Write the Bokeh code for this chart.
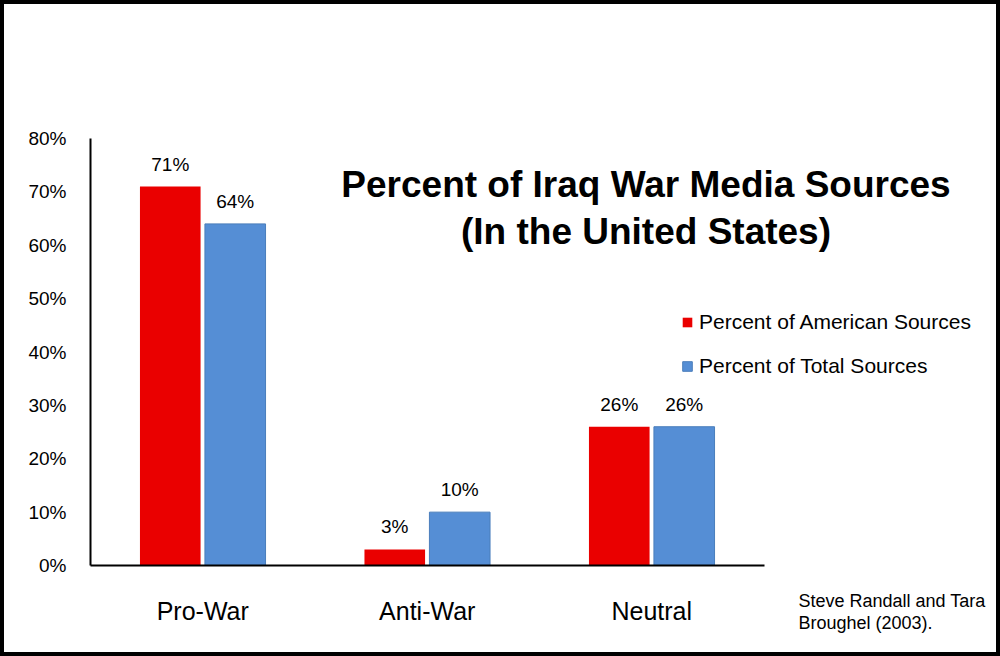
from bokeh.plotting import figure
from bokeh.models import (ColumnDataSource, Range1d, FixedTicker, PrintfTickFormatter,
                          LabelSet, Label, Legend, LegendItem)
from bokeh.core.properties import value
from bokeh.transform import dodge
from bokeh.embed import file_html
from bokeh.resources import INLINE

# ---- data ----
categories = ["Pro-War", "Anti-War", "Neutral"]
american_pct = [71, 3, 26]
total_pct = [64, 10, 26]
y_ticks = [0, 10, 20, 30, 40, 50, 60, 70, 80]
series_names = ["Percent of American Sources", "Percent of Total Sources"]
title_lines = ["Percent of Iraq War Media Sources", "(In the United States)"]
source_lines = ["Steve Randall and Tara", "Broughel (2003)."]

# ---- layout constants (pixels) ----
W, H = 1000, 656
ORIGIN_X, ORIGIN_Y = 90, 565   # canvas position of the chart origin
Y_PX = 427 / 80.0              # pixels per percentage point
CAT_PX = 224.5                 # pixels per category slot

FONT = "Liberation Sans"
RED = "#EA0000"
BLUE = "#558ED5"
BLUE_EDGE = "#4A7EBB"


def dx(px):
    return (px - ORIGIN_X) / CAT_PX


def dy(py):
    return (ORIGIN_Y - py) / Y_PX


centers = [i + 0.5 for i in range(len(categories))]
source = ColumnDataSource(dict(
    cx=centers,
    american=american_pct,
    total=total_pct,
    american_lbl=[f"{v}%" for v in american_pct],
    total_lbl=[f"{v}%" for v in total_pct],
))

# the plot frame spans the whole canvas; axes sit at fixed data locations
p = figure(width=W, height=H, output_backend="svg", toolbar_location=None,
           x_range=Range1d(dx(0), dx(W)), y_range=Range1d(dy(H), dy(0)),
           min_border=0, min_border_left=0, min_border_right=0,
           min_border_top=0, min_border_bottom=0)
p.xgrid.visible = False
p.ygrid.visible = False
p.background_fill_color = "white"
p.border_fill_color = "white"
# black frame around the whole picture
p.outline_line_color = "black"
p.outline_line_width = 7

OFF = 0.1447
BAR_W = 0.27
r_am = p.vbar(x=dodge("cx", -OFF), top="american", bottom=0, width=BAR_W,
              source=source, fill_color=RED, line_color=None)
r_tot = p.vbar(x=dodge("cx", OFF), top="total", bottom=0, width=BAR_W,
               source=source, fill_color=BLUE, line_color=BLUE_EDGE, line_width=1)

for field, off in (("american", -OFF), ("total", OFF)):
    p.add_layout(LabelSet(x=dodge("cx", off), y=field, text=field + "_lbl", source=source,
                          y_offset=16, text_align="center", text_baseline="alphabetic",
                          text_font=value(FONT), text_font_size="19px", text_color="black"))

# axes
xa = p.xaxis[0]
xa.fixed_location = 0
xa.ticker = FixedTicker(ticks=centers)
xa.major_label_overrides = {c: name for c, name in zip(centers, categories)}
xa.bounds = (0, len(categories))
xa.axis_line_width = 2
xa.axis_line_color = "black"
xa.major_tick_line_color = None
xa.minor_tick_line_color = None
xa.major_tick_out = 0
xa.major_label_standoff = 31
xa.major_label_text_font = FONT
xa.major_label_text_font_size = "25px"
xa.major_label_text_color = "black"

ya = p.yaxis[0]
ya.fixed_location = 0
ya.ticker = FixedTicker(ticks=y_ticks)
ya.formatter = PrintfTickFormatter(format="%d%%")
ya.bounds = (y_ticks[0], y_ticks[-1])
ya.axis_line_width = 2
ya.axis_line_color = "black"
ya.major_tick_line_color = None
ya.minor_tick_line_color = None
ya.major_tick_out = 0
ya.major_label_standoff = 24
ya.major_label_text_font = FONT
ya.major_label_text_font_size = "19px"
ya.major_label_text_color = "black"

# title (two centred lines)
for txt, mid in zip(title_lines, (184, 231)):
    p.add_layout(Label(x=dx(645.5), y=dy(mid), text=txt, text_align="center",
                       text_baseline="middle", text_font=FONT, text_font_style="bold",
                       text_font_size="37px", text_color="black"))

# citation
for txt, mid in zip(source_lines, (600, 622)):
    p.add_layout(Label(x=dx(798), y=dy(mid), text=txt, text_align="left",
                       text_baseline="middle", text_font=FONT,
                       text_font_size="18px", text_color="black"))

legend = Legend(items=[LegendItem(label=series_names[0], renderers=[r_am]),
                       LegendItem(label=series_names[1], renderers=[r_tot])],
                location=(681, H - 378), glyph_width=12, glyph_height=12,
                label_standoff=6, spacing=20, padding=0, margin=0,
                border_line_color=None, background_fill_alpha=0,
                label_text_font=FONT, label_text_font_size="21px",
                label_text_color="black")
p.add_layout(legend)

open("out.html", "w").write(file_html(p, INLINE))
